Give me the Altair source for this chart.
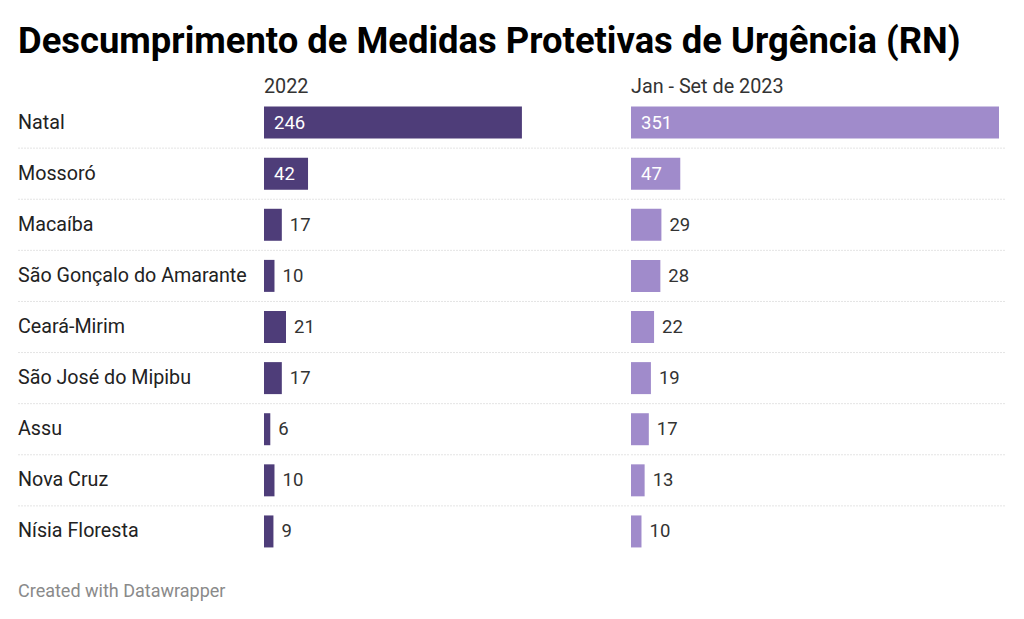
import altair as alt
import pandas as pd

title = "Descumprimento de Medidas Protetivas de Urgência (RN)"
footer = "Created with Datawrapper"
rows = ["Natal", "Mossoró", "Macaíba", "São Gonçalo do Amarante", "Ceará-Mirim",
        "São José do Mipibu", "Assu", "Nova Cruz", "Nísia Floresta"]
headers = ["2022", "Jan - Set de 2023"]
v2022 = [246, 42, 17, 10, 21, 17, 6, 10, 9]
v2023 = [351, 47, 29, 28, 22, 19, 17, 13, 10]

colors = ["#4e3d79", "#a08bcb"]
FONT = "Roboto"
H = 460
W_LABEL, W_B, W_C = 246, 367, 375
PX_PER_UNIT = 368 / max(v2023)
LABEL_SIZE = 19.7
VALUE_SIZE = 18.5
HEAD_SIZE = 19.8

df_rows = pd.DataFrame({"row": rows})
yscale = alt.Scale(domain=rows, paddingInner=0, paddingOuter=0)


def seps(width):
    return alt.Chart(df_rows).transform_filter(
        alt.datum.row != rows[0]
    ).mark_rule(color="#c8c8c8", strokeDash=[1, 2], strokeWidth=1).encode(
        y=alt.Y("row:N", scale=yscale, axis=None, bandPosition=0),
        x=alt.value(0.5), x2=alt.value(width - 0.5)
    )


def panel(values, header, color, width):
    df = pd.DataFrame({"row": rows, "value": values})
    df["inside"] = df["value"] >= 40
    df["zero"] = 0
    xs = alt.Scale(domain=[0, width / PX_PER_UNIT], nice=False, zero=True)
    base = alt.Chart(df)
    bars = base.mark_bar(size=32, color=color).encode(
        y=alt.Y("row:N", scale=yscale, axis=None),
        x=alt.X("value:Q", scale=xs, axis=None),
    )
    tin = base.transform_filter(alt.datum.inside).mark_text(
        align="left", baseline="middle", dx=10, font=FONT, fontSize=VALUE_SIZE, color="white"
    ).encode(
        y=alt.Y("row:N", scale=yscale, axis=None),
        x=alt.X("zero:Q", scale=xs, axis=None),
        text=alt.Text("value:Q"),
    )
    tout = base.transform_filter(~alt.datum.inside).mark_text(
        align="left", baseline="middle", dx=8, font=FONT, fontSize=VALUE_SIZE, color="#333333"
    ).encode(
        y=alt.Y("row:N", scale=yscale, axis=None),
        x=alt.X("value:Q", scale=xs, axis=None),
        text=alt.Text("value:Q"),
    )
    return alt.layer(seps(width), bars, tin, tout).properties(
        width=width, height=H,
        title=alt.TitleParams(header, anchor="start", font=FONT, fontSize=HEAD_SIZE,
                              fontWeight="normal", color="#333333", offset=0),
    )


labels = alt.Chart(df_rows).mark_text(
    align="left", baseline="middle", font=FONT, fontSize=LABEL_SIZE, color="#222222"
).encode(
    y=alt.Y("row:N", scale=yscale, axis=None),
    x=alt.value(0),
    text="row:N",
)
foot = alt.Chart(pd.DataFrame({"t": [footer]})).mark_text(
    align="left", baseline="middle", font=FONT, fontSize=18, color="#8a8a8a"
).encode(x=alt.value(0), y=alt.value(H + 35), text="t:N")

left = alt.layer(seps(W_LABEL), labels, foot).properties(
    width=W_LABEL, height=H,
    title=alt.TitleParams(" ", anchor="start", font=FONT, fontSize=HEAD_SIZE,
                          fontWeight="normal", offset=0),
)

chart = alt.hconcat(
    left,
    panel(v2022, headers[0], colors[0], W_B),
    panel(v2023, headers[1], colors[1], W_C),
    spacing=0,
).properties(
    title=alt.TitleParams(title, anchor="start", font=FONT, fontSize=36.4,
                          fontWeight="bold", color="#000000", offset=16.5),
    padding={"left": 10, "top": 16, "right": 5, "bottom": 5},
    background="white",
).configure_view(stroke=None)

chart.save("out.html", embed_options={"renderer": "svg", "actions": False})
